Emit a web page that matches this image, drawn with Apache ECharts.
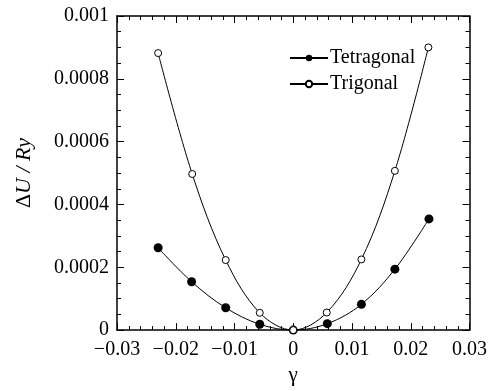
<!DOCTYPE html>
<html>
<head>
<meta charset="utf-8">
<script src="https://cdn.jsdelivr.net/npm/echarts@6/dist/echarts.min.js"></script>
<style>
  html, body { margin: 0; padding: 0; background: #fff; }
  #chart { width: 490px; height: 391px; }
</style>
</head>
<body>
<div id="chart"></div>
<script>
// strain gamma and energy difference (Ry)
const tetragonalGamma = [-0.0230, -0.0173, -0.0115, -0.0057, 0, 0.0058, 0.0116, 0.0173, 0.0231];
const tetragonalDU = [0.000262, 0.000154, 0.000071, 0.0000185, 0, 0.0000205, 0.000082, 0.000194, 0.000354];
const trigonalGamma = [-0.0230, -0.0172, -0.0115, -0.0057, 0, 0.0057, 0.0116, 0.0173, 0.0230];
const trigonalDU = [0.000882, 0.000497, 0.000223, 0.000055, 0, 0.000056, 0.000225, 0.000507, 0.000900];

const xTicks = [-0.03, -0.02, -0.01, 0, 0.01, 0.02, 0.03];
const yTicks = [0, 0.0002, 0.0004, 0.0006, 0.0008, 0.001];

const FONT = '"Liberation Serif", "Times New Roman", serif';

function zip(xs, ys) {
  return xs.map((x, i) => [x, ys[i]]);
}

const chart = echarts.init(document.getElementById('chart'), null, { renderer: 'canvas' });

const axisCommon = {
  axisLine: { show: true, onZero: false, lineStyle: { color: '#000', width: 1.5 } },
  axisTick: { show: true, inside: true, length: 7, lineStyle: { color: '#000', width: 1 } },
  minorTick: { show: true, length: 4, lineStyle: { color: '#000', width: 1 } },
  splitLine: { show: false },
  minorSplitLine: { show: false }
};

const option = {
  animation: false,
  backgroundColor: '#fff',
  textStyle: { fontFamily: FONT },
  grid: { left: 117, right: 19, top: 16, bottom: 50 },
  legend: {
    orient: 'vertical',
    left: 289,
    top: 48,
    padding: 0,
    itemWidth: 38,
    itemHeight: 8,
    itemGap: 6,
    textStyle: { fontFamily: FONT, fontSize: 20, color: '#000', padding: [0, 0, 0, -3] },
    data: ['Tetragonal', 'Trigonal']
  },
  xAxis: [
    Object.assign({}, axisCommon, {
      type: 'value',
      min: xTicks[0],
      max: xTicks[xTicks.length - 1],
      interval: 0.01,
      minorTick: Object.assign({}, axisCommon.minorTick, { splitNumber: 5 }),
      axisLabel: {
        color: '#000', fontFamily: FONT, fontSize: 20, margin: 10,
        formatter: v => (Math.abs(v) < 1e-9 ? '0' : parseFloat(v.toFixed(4)).toString().replace('-', '\u2212'))
      },
      name: 'γ',
      nameLocation: 'middle',
      nameGap: 24,
      nameTextStyle: { color: '#000', fontFamily: FONT, fontSize: 21 }
    }),
    Object.assign({}, axisCommon, {
      type: 'value',
      position: 'top',
      min: xTicks[0],
      max: xTicks[xTicks.length - 1],
      interval: 0.01,
      minorTick: Object.assign({}, axisCommon.minorTick, { splitNumber: 5 }),
      axisLabel: { show: false }
    })
  ],
  yAxis: [
    Object.assign({}, axisCommon, {
      type: 'value',
      min: yTicks[0],
      max: yTicks[yTicks.length - 1],
      interval: 0.0002,
      minorTick: Object.assign({}, axisCommon.minorTick, { splitNumber: 4 }),
      axisLabel: {
        color: '#000', fontFamily: FONT, fontSize: 20, margin: 8,
        formatter: v => (Math.abs(v) < 1e-12 ? '0' : parseFloat(v.toFixed(6)).toString())
      },
      name: '{d|Δ}{i|U / Ry}',
      nameLocation: 'middle',
      nameGap: 82,
      nameRotate: 90,
      nameTextStyle: {
        color: '#000',
        rich: {
          d: { fontFamily: FONT, fontSize: 22, color: '#000' },
          i: { fontFamily: FONT, fontSize: 22, fontStyle: 'italic', color: '#000' }
        }
      }
    }),
    Object.assign({}, axisCommon, {
      type: 'value',
      position: 'right',
      min: yTicks[0],
      max: yTicks[yTicks.length - 1],
      interval: 0.0002,
      minorTick: Object.assign({}, axisCommon.minorTick, { splitNumber: 4 }),
      axisLabel: { show: false }
    })
  ],
  series: [
    {
      name: 'Tetragonal',
      type: 'line',
      data: zip(tetragonalGamma, tetragonalDU),
      smooth: 0.35,
      symbol: 'circle',
      symbolSize: 9,
      itemStyle: { color: '#000', borderColor: '#000', borderWidth: 0 },
      lineStyle: { color: '#000', width: 1 }
    },
    {
      name: 'Trigonal',
      type: 'line',
      data: zip(trigonalGamma, trigonalDU),
      smooth: 0.35,
      symbol: 'circle',
      symbolSize: 7,
      itemStyle: { color: '#fff', borderColor: '#000', borderWidth: 1 },
      lineStyle: { color: '#000', width: 1 }
    }
  ]
};

chart.setOption(option);
</script>
</body>
</html>
